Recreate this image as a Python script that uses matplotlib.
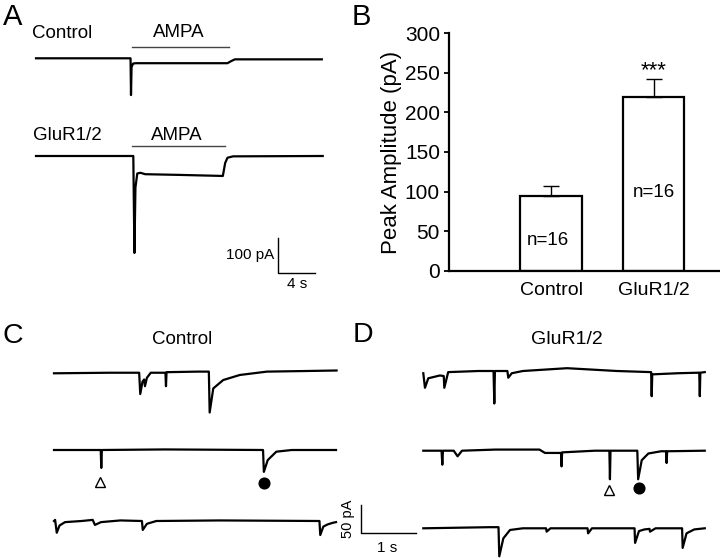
import numpy as np
import matplotlib
matplotlib.use('Agg')
import matplotlib.pyplot as plt

plt.rcParams['font.family'] = ['Liberation Sans', 'DejaVu Sans']

W, H = 720, 558

# ---- A: AMPA-evoked currents (time s, current pA) ----
a_ctrl_t = [0, 10.22, 10.27, 10.33, 10.5, 10.8, 20.7, 21.1, 21.5, 30.9]
a_ctrl_i = [0, 0, -105, -25, -15, -14, -14, -8, -3, -3]
a_glu_t = [0, 10.52, 10.64, 10.75, 10.95, 11.3, 11.8, 15.5, 20.2, 20.45, 20.7, 21.3, 31.0]
a_glu_i = [0, 0, -277, -90, -50, -48, -52, -54, -57, -20, -5, -1, 0]
ampa_ctrl = [10.35, 20.9]
ampa_glu = [10.41, 20.43]

# ---- B: peak amplitude ----
groups = ['Control', 'GluR1/2']
peak_mean = [94.5, 219.0]
peak_sem = [13.0, 23.5]
n_cells = [16, 16]

# ---- C: mEPSCs, control (time s, current pA) ----
c1_t = [0, 1.0, 1.54, 1.56, 1.60, 1.63, 1.645, 1.68, 1.75, 2.015, 2.025, 2.035, 2.6, 2.80,
        2.815, 2.88, 3.06, 3.36, 3.85, 4.5, 5.11]
c1_i = [0, 1, 1, -37, -15, -11, -23, -8, 1, 1, -23, 2, 3, 3,
        -70, -27, -12, -3, 3, 4, 5]
c2_t = [0, 0.845, 0.855, 0.865, 2.0, 3.78, 3.795, 3.865, 4.02, 4.3, 5.1]
c2_i = [0, 0, -32, 0, 1, 0, -39, -18, -3, 0, 0]
c3_t = [0, 0.02, 0.05, 0.1, 0.2, 0.5, 0.70, 0.74, 0.85, 1.2, 1.59, 1.605, 1.68, 1.85,
        3.0, 4.80, 4.815, 4.87, 4.95, 5.05, 5.1]
c3_i = [0, 2, -21, -8, -2, 0, 2, -7, -2, 1, 0, -16, -5, 0,
        1, 0, -25, -10, -6, -3, -2]
c2_tri = [0.83, -58]
c2_dot = [3.80, -59]

# ---- D: mEPSCs, GluR1/2 ----
d1_t = [0, 0.03, 0.09, 0.3, 0.37, 0.38, 0.45, 1.0, 1.27, 1.284, 1.295, 1.52, 1.537, 1.6,
        1.8, 2.6, 3.5, 4.12, 4.13, 4.14, 4.6, 4.99, 5.0, 5.01, 5.09]
d1_i = [-4, -30, -13, -8, -9, -30, -2, 0, 0, -58, 0, 0, -12, -4,
        0, 5, 0, -2, -45, -6, -4, -3, -45, -3, -2]
d2_t = [0, 0.33, 0.344, 0.355, 0.55, 0.62, 0.7, 1.3, 2.1, 2.2, 2.49, 2.50, 2.51, 3.1,
        3.365, 3.375, 3.385, 3.87, 3.885, 3.95, 4.07, 4.3, 4.39, 4.40, 4.41, 5.09]
d2_i = [0, 0, -25, 0, 0, -10, 0, 2, 2, -4, -4, -28, -3, 0,
        0, -51, 0, 0, -51, -17, -5, -1, -1, -22, -1, 0]
d3_t = [0, 1.2, 1.36, 1.374, 1.447, 1.568, 1.8, 2.22, 2.23, 2.3, 2.97, 2.98, 3.05, 3.82,
        3.83, 3.9, 4.0, 4.09, 4.1, 4.2, 4.68, 4.69, 4.76, 4.9, 5.09]
d3_i = [0, 2, 2, -50, -18, -3, 0, 0, -6, 0, 0, -9, 0, 0,
        -26, -5, -2, -1, -6, 0, 0, -35, -9, -2, 0]
d2_tri = [3.364, -70]
d2_dot = [3.90, -67]

fig = plt.figure(figsize=(7.2, 5.58), dpi=100)


def px(x, y):
    return x / W, 1 - y / H


def trace_axes(x0, y0, t_span, s_px, pa_px, top, bottom):
    # axes whose data units are s and pA, placed by pixel of (t=0, I=0)
    top_px = y0 - top * pa_px
    bot_px = y0 + bottom * pa_px
    ax = fig.add_axes([x0 / W, 1 - bot_px / H, t_span * s_px / W, (bot_px - top_px) / H])
    ax.set_xlim(0, t_span)
    ax.set_ylim(-bottom, top)
    ax.axis('off')
    return ax


tr = dict(color='black', lw=1.6, clip_on=False)
sb = dict(color='black', lw=1.0, clip_on=False)

# panel A
sA, pA_A = 9.25, 0.35
ax1 = trace_axes(36, 58.3, 31.1, sA, pA_A, 40, 130)
ax1.plot(a_ctrl_t, a_ctrl_i, **tr)
ax1.plot(ampa_ctrl, [33, 33], color='#444444', lw=1.0, clip_on=False)
ax2 = trace_axes(36, 156, 31.1, sA, pA_A, 40, 400)
ax2.plot(a_glu_t, a_glu_i, **tr)
ax2.plot(ampa_glu, [29.5, 29.5], color='#444444', lw=1.0, clip_on=False)
# scale bar 100 pA / 4 s
ax2.plot([26.16, 26.16, 30.16], [-234, -334, -334], **sb)
ax2.text(25.75, -282, '100 pA', ha='right', va='center', fontsize=11)
ax2.text(28.2, -345, '4 s', ha='center', va='top', fontsize=11)

fig.text(*px(3, 25), 'A', fontsize=21, va='baseline', ha='left')
fig.text(*px(32, 38.3), 'Control', fontsize=13.5, va='baseline')
fig.text(*px(178.3, 37.3), 'AMPA', fontsize=13.5, va='baseline', ha='center')
fig.text(*px(33, 140), 'GluR1/2', fontsize=13.5, va='baseline')
fig.text(*px(176.7, 140), 'AMPA', fontsize=13.5, va='baseline', ha='center')

# panel B
axb = fig.add_axes([449 / W, 1 - 270.7 / H, (720 - 449) / W, (270.7 - 33.3) / H])
xpos = np.arange(1, len(groups) + 1)
axb.bar(xpos, peak_mean, width=0.605, color='white', edgecolor='black', linewidth=1.6, zorder=2)
axb.errorbar(xpos, peak_mean, yerr=[np.zeros(len(peak_sem)), peak_sem], fmt='none',
             ecolor='black', elinewidth=1.0, capsize=5.6, capthick=1.0, zorder=3)
axb.set_xlim(0.0, 2.65)
axb.set_ylim(0, 300)
axb.set_yticks(range(0, 301, 50))
axb.set_xticks(xpos)
axb.set_xticklabels(groups, fontsize=14)
axb.tick_params(axis='x', length=0, pad=8)
axb.tick_params(axis='y', length=3.5, width=1.3, labelsize=15, pad=3)
for s in ['top', 'right']:
    axb.spines[s].set_visible(False)
for s in ['left', 'bottom']:
    axb.spines[s].set_linewidth(1.6)
axb.set_ylabel('Peak Amplitude (pA)', fontsize=16, labelpad=2)
axb.text(xpos[0] - 0.03, 32.5, 'n=%d' % n_cells[0], ha='center', va='baseline', fontsize=13.5)
axb.text(xpos[1], 93.5, 'n=%d' % n_cells[1], ha='center', va='baseline', fontsize=13.5)
axb.text(xpos[1], peak_mean[1] + peak_sem[1] + 3, '***', ha='center', va='baseline', fontsize=16)
fig.text(*px(352, 25), 'B', fontsize=21, va='baseline', ha='left')

# panels C and D
sC, pa_C = 55.3, 0.56
mk = dict(clip_on=False, color='black')
c_ax1 = trace_axes(54, 373.3, 5.11, sC, pa_C, 30, 90)
c_ax1.plot(c1_t, c1_i, **tr)
c_ax2 = trace_axes(54, 450, 5.11, sC, pa_C, 30, 90)
c_ax2.plot(c2_t, c2_i, **tr)
c_ax2.plot(c2_tri[0], c2_tri[1], marker='^', ms=7, mfc='white', mec='black', mew=1.0, **mk)
c_ax2.plot(c2_dot[0], c2_dot[1], marker='o', ms=7.7, **mk)
c_ax3 = trace_axes(54, 521, 5.11, sC, pa_C, 30, 60)
c_ax3.plot(c3_t, c3_i, **tr)

d_ax1 = trace_axes(423.3, 371, 5.09, sC, pa_C, 30, 90)
d_ax1.plot(d1_t, d1_i, **tr)
d_ax2 = trace_axes(423.3, 450.7, 5.09, sC, pa_C, 30, 90)
d_ax2.plot(d2_t, d2_i, **tr)
d_ax2.plot(d2_tri[0], d2_tri[1], marker='^', ms=7, mfc='white', mec='black', mew=1.0, **mk)
d_ax2.plot(d2_dot[0], d2_dot[1], marker='o', ms=7.7, **mk)
d_ax3 = trace_axes(423.3, 528.3, 5.09, sC, pa_C, 30, 60)
d_ax3.plot(d3_t, d3_i, **tr)
# scale bar 50 pA / 1 s
d_ax3.plot([-1.132, -1.132, -0.132], [42.1, -7.9, -7.9], **sb)
d_ax3.text(-1.36, 17, '50 pA', rotation=90, ha='center', va='center', fontsize=10.5)
d_ax3.text(-0.66, -41.5, '1 s', ha='center', va='baseline', fontsize=11)

fig.text(*px(3, 343), 'C', fontsize=20.5, va='baseline', ha='left')
fig.text(*px(353, 342), 'D', fontsize=20.5, va='baseline', ha='left')
fig.text(*px(182.5, 344), 'Control', fontsize=13.5, va='baseline', ha='center')
fig.text(*px(566.7, 344), 'GluR1/2', fontsize=14, va='baseline', ha='center')

fig.savefig('out.png', dpi=100)
